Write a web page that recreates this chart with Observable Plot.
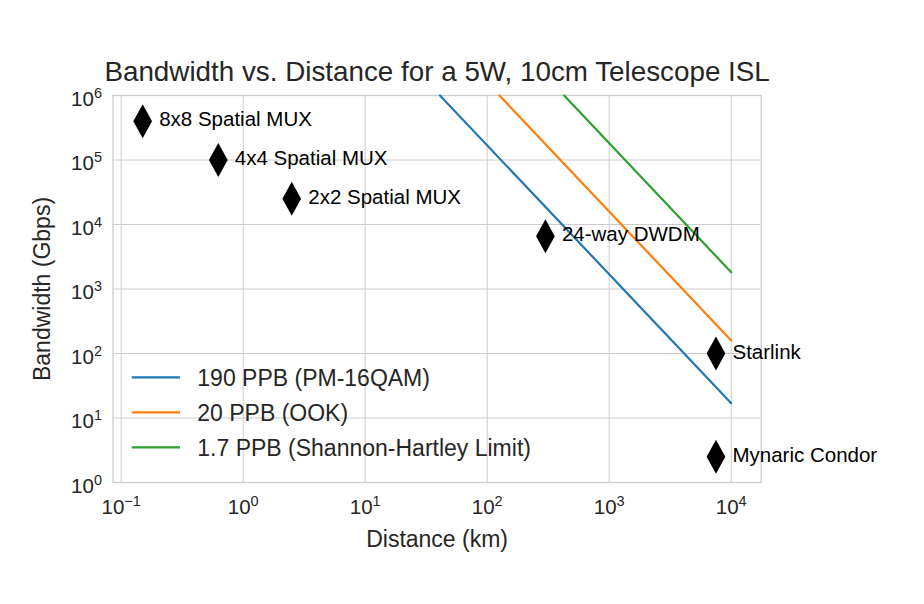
<!DOCTYPE html>
<html><head><meta charset="utf-8">
<script src="https://cdn.jsdelivr.net/npm/d3@7"></script>
<script src="https://cdn.jsdelivr.net/npm/@observablehq/plot@0.6"></script>
<style>body{margin:0;background:#fff;} svg{display:block}</style>
</head><body><div id="chart"></div>
<script>
const title = "Bandwidth vs. Distance for a 5W, 10cm Telescope ISL";
const xLabel = "Distance (km)";
const yLabel = "Bandwidth (Gbps)";
const seriesNames = ["190 PPB (PM-16QAM)", "20 PPB (OOK)", "1.7 PPB (Shannon-Hartley Limit)"];
const seriesColors = ["#1f77b4", "#ff7f0e", "#2ca02c"];
const pm16qamDistance = [41, 10000];
const pm16qamBandwidth = [1e6, 17];
const ookDistance = [126, 10000];
const ookBandwidth = [1e6, 159];
const shannonDistance = [427, 10000];
const shannonBandwidth = [1e6, 1820];
const systemNames = ["8x8 Spatial MUX", "4x4 Spatial MUX", "2x2 Spatial MUX", "24-way DWDM", "Starlink", "Mynaric Condor"];
const systemDistance = [0.15, 0.625, 2.5, 300, 7500, 7500];
const systemBandwidth = [4e5, 1e5, 2.5e4, 6600, 100, 2.5];
const xTicks = [0.1, 1, 10, 100, 1000, 10000];
const yTicks = [1, 10, 100, 1000, 1e4, 1e5, 1e6];

const seriesD = [pm16qamDistance, ookDistance, shannonDistance];
const seriesB = [pm16qamBandwidth, ookBandwidth, shannonBandwidth];
const lineData = seriesNames.flatMap((s, k) => seriesD[k].map((d, i) => ({series: s, distance: d, bandwidth: seriesB[k][i]})));
const systems = systemNames.map((name, i) => ({name, distance: systemDistance[i], bandwidth: systemBandwidth[i]}));

const thinDiamond = {
  draw(context, size) {
    const r = Math.sqrt(size / Math.PI), w = r * 0.55;
    context.moveTo(0, -r); context.lineTo(w, 0); context.lineTo(0, r); context.lineTo(-w, 0); context.closePath();
  }
};
const fmt = d => "10^" + Math.round(Math.log10(d));
const TXT = "#262626";

const svg = Plot.plot({
  width: 924, height: 604,
  marginTop: 95, marginBottom: 122, marginLeft: 112.5, marginRight: 163.3,
  style: {fontFamily: "'Liberation Sans', Arial, sans-serif", fontSize: "20.5px", color: TXT, background: "#fff"},
  x: {type: "log", domain: [0.08566, 17612]},
  y: {type: "log", domain: [1, 1e6]},
  color: {domain: seriesNames, range: seriesColors},
  marks: [
    Plot.gridX(xTicks, {stroke: "#cccccc", strokeOpacity: 1, strokeWidth: 1}),
    Plot.gridY(yTicks, {stroke: "#cccccc", strokeOpacity: 1, strokeWidth: 1}),
    Plot.frame({stroke: "#cccccc", strokeWidth: 1.25}),
    Plot.axisX(xTicks, {tickSize: 0, tickPadding: 17, tickFormat: fmt, label: null, fill: TXT}),
    Plot.axisY(yTicks, {tickSize: 0, tickPadding: 11, tickFormat: fmt, label: null, fill: TXT, dy: 3.5}),
    Plot.line(lineData, {x: "distance", y: "bandwidth", z: "series", stroke: "series", strokeWidth: 2.2}),
    Plot.dot(systems, {x: "distance", y: "bandwidth", symbol: thinDiamond, r: 17, fill: "#000", stroke: "none"}),
    Plot.text(systems, {x: "distance", y: "bandwidth", text: "name", textAnchor: "start", dx: 16.5, dy: -1.5, fontSize: 20.5, fill: "#000"}),
    Plot.text([title], {text: d => d, frameAnchor: "top", textAnchor: "middle", lineAnchor: "middle", dy: -23.5, fontSize: 27.8, fill: TXT}),
    Plot.text([xLabel], {text: d => d, frameAnchor: "bottom", textAnchor: "middle", lineAnchor: "middle", dy: 57.6, fontSize: 23, fill: TXT}),
    Plot.text([yLabel], {text: d => d, frameAnchor: "left", textAnchor: "middle", lineAnchor: "middle", dx: -70, rotate: -90, fontSize: 23, fill: TXT})
  ]
});

// superscript exponents for tick labels
d3.select(svg).selectAll("text").each(function() {
  const t = this.textContent;
  if (/^10\^-?\d+$/.test(t)) {
    const e = t.split("^")[1].replace("-", "\u2212");
    this.textContent = "10";
    d3.select(this).append("tspan").attr("dy", "-7.6px").attr("font-size", "14.5px").text(e);
  }
});

// legend (inside plot, lower left)
const lg = d3.select(svg).append("g").attr("font-family", "'Liberation Sans', Arial, sans-serif").attr("font-size", "23px").attr("text-anchor", "start");
seriesNames.forEach((s, i) => {
  const y = 377.3 + i * 35;
  lg.append("line").attr("x1", 131.7).attr("x2", 180).attr("y1", y).attr("y2", y)
    .attr("stroke", seriesColors[i]).attr("stroke-width", 2.2);
  lg.append("text").attr("x", 197.3).attr("y", y + 1.5).attr("dy", "0.32em").attr("fill", TXT).text(s);
});

document.getElementById("chart").appendChild(svg);
</script>
</body></html>
